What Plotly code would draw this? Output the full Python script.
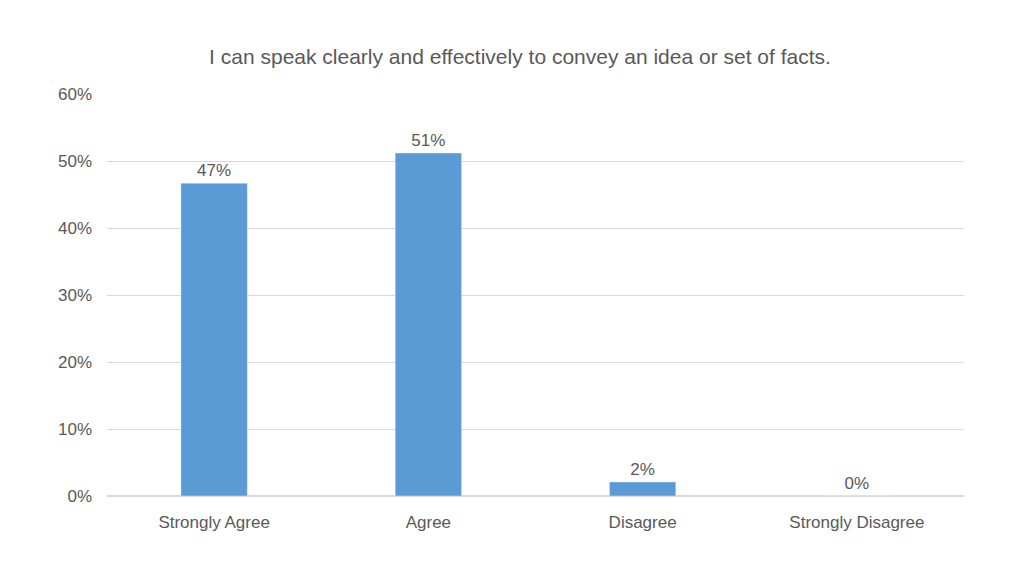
import plotly.graph_objects as go

categories = ["Strongly Agree", "Agree", "Disagree", "Strongly Disagree"]
values = [0.467, 0.512, 0.021, 0.0]
labels = ["47%", "51%", "2%", "0%"]

fig = go.Figure(go.Bar(
    x=categories, y=values, text=labels, textposition="outside",
    marker_color="#5B9BD5", cliponaxis=False,
    textfont=dict(size=17, color="#595959"),
))
fig.update_layout(
    width=1024, height=576,
    paper_bgcolor="white", plot_bgcolor="white",
    font=dict(family="Liberation Sans, Arial, sans-serif", color="#595959", size=17),
    title=dict(text="I can speak clearly and effectively to convey an idea or set of facts.",
               x=0.5, xanchor="center", y=0.915, yanchor="middle",
               font=dict(size=21, color="#595959")),
    margin=dict(l=99, r=68, t=86, b=88),
    bargap=0.69,
    showlegend=False,
)
fig.update_yaxes(range=[0, 0.6001], tickvals=[0, 0.1, 0.2, 0.3, 0.4, 0.5, 0.6],
                 tickformat=".0%", gridcolor="#D9D9D9",
                 zeroline=True, zerolinecolor="#D9D9D9", ticks="", ticklen=0,
                 ticklabelstandoff=14, tickfont=dict(size=17), automargin=False)
fig.update_xaxes(tickfont=dict(size=17), showline=False, automargin=False,
                 ticklabelstandoff=14)
fig.write_html("out.html")
